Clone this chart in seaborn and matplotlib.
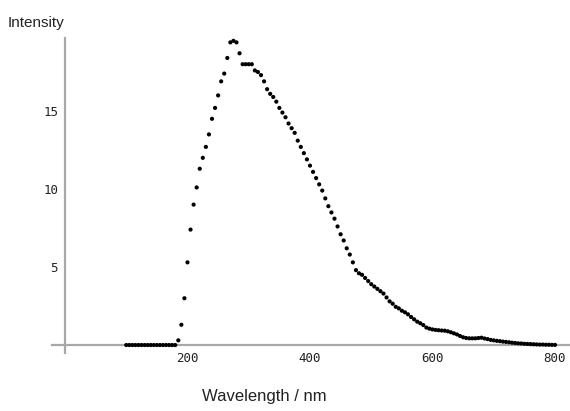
import numpy as np
import pandas as pd
import matplotlib
matplotlib.use("Agg")
import matplotlib.pyplot as plt
from matplotlib.ticker import MultipleLocator
import seaborn as sns

# ── Data (5 nm steps) ───────────────────────────────────────────────────────
wavelength = list(range(100, 805, 5))
intensity = (
    [0.0] * 17 +                                            # 100 - 180
    [0.3, 1.3, 3.0, 5.3, 7.4, 9.0, 10.1, 11.3, 12.0, 12.7,  # 185 - 230
     13.5, 14.5, 15.2, 16.0, 16.9, 17.4, 18.4, 19.4, 19.5, 19.4,  # 235 - 280
     18.7, 18.0, 18.0, 18.0, 18.0, 17.6, 17.5, 17.3, 16.9, 16.4,  # 285 - 330
     16.1, 15.9, 15.6, 15.2, 14.9, 14.6, 14.2, 13.9, 13.6, 13.1,  # 335 - 380
     12.7, 12.3, 11.9, 11.5, 11.1, 10.7, 10.3, 9.9, 9.4, 8.9,     # 385 - 430
     8.5, 8.1, 7.6, 7.1, 6.7, 6.2, 5.8, 5.3, 4.8, 4.6,            # 435 - 480
     4.5, 4.3, 4.1, 3.9, 3.75, 3.6, 3.45, 3.3, 3.05, 2.8,         # 485 - 530
     2.65, 2.45, 2.35, 2.2, 2.1, 1.97, 1.8, 1.65, 1.5, 1.4,       # 535 - 580
     1.28, 1.12, 1.05, 1.0, 0.97, 0.95, 0.93, 0.92, 0.88, 0.82,   # 585 - 630
     0.75, 0.68, 0.58, 0.5, 0.45, 0.43, 0.43, 0.43, 0.45, 0.47,   # 635 - 680
     0.42, 0.38, 0.33, 0.3, 0.27, 0.25, 0.22, 0.2, 0.18, 0.15,    # 685 - 730
     0.13, 0.11, 0.1, 0.08, 0.07, 0.06, 0.05, 0.04, 0.03, 0.03,   # 735 - 780
     0.02, 0.02, 0.01, 0.01]                                # 785 - 800
)
x_ticks = [200, 400, 600, 800]
y_ticks = [5, 10, 15]

AXIS_GREY = '#a8a8a8'

sns.set_style("white")
plt.rcParams['font.family'] = ['Liberation Sans', 'DejaVu Sans']

df = pd.DataFrame({'wavelength': wavelength, 'intensity': intensity})

fig = plt.figure(figsize=(5.7, 4.11), dpi=100)
ax = fig.add_axes([52 / 570, 58 / 411, 518 / 570, 315 / 411])

sns.scatterplot(data=df, x='wavelength', y='intensity', ax=ax,
                color='black', s=9, linewidth=0, edgecolor='none',
                zorder=5, clip_on=False)

ax.set_xlim(-21.2, 824.5)
ax.set_ylim(-0.51, 19.68)

# Mathematica-style axes crossing at the origin
for side in ['top', 'right']:
    ax.spines[side].set_visible(False)
ax.spines['left'].set_position(('data', 0))
ax.spines['bottom'].set_position(('data', 0))
for side in ['left', 'bottom']:
    ax.spines[side].set_color(AXIS_GREY)
    ax.spines[side].set_linewidth(1.6)
    ax.spines[side].set_zorder(1)

ax.set_xticks(x_ticks)
ax.set_yticks(y_ticks)
ax.xaxis.set_minor_locator(MultipleLocator(50))
ax.yaxis.set_minor_locator(MultipleLocator(1))
ax.tick_params(axis='both', which='major', direction='in', length=3,
               width=0.8, color='#888888', labelsize=9, pad=5)
ax.tick_params(axis='both', which='minor', direction='in', length=1.5,
               width=0.6, color='#bbbbbb')
for lbl in ax.get_xticklabels() + ax.get_yticklabels():
    lbl.set_family('DejaVu Sans Mono')
    lbl.set_color('#222222')

ax.set_xlabel('')
ax.set_ylabel('')
fig.text(8 / 570, 1 - 23 / 411, 'Intensity', ha='left', va='center',
         fontsize=11, color='#222222')
fig.text(264 / 570, 1 - 396 / 411, 'Wavelength / nm', ha='center',
         va='center', fontsize=12, color='#222222')

fig.savefig('out.png', dpi=100)
